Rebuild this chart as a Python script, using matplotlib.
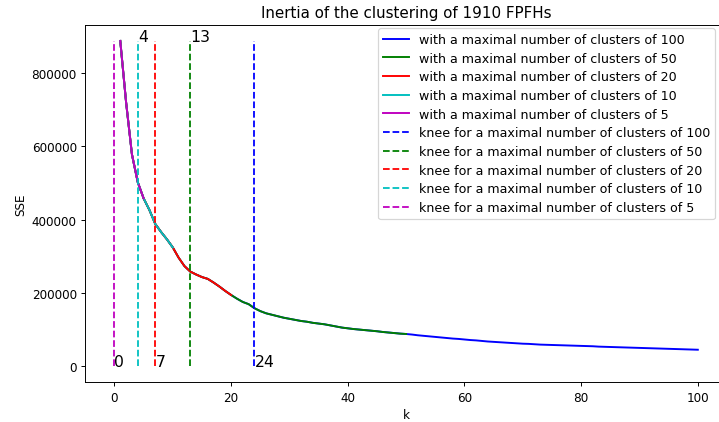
import numpy as np
import matplotlib
matplotlib.use("Agg")
import matplotlib.pyplot as plt

# SSE (inertia), k = 1..100
k = np.arange(1, 101)
sse = [888000, 720000, 578000, 502000, 458000, 426000, 388000, 366000, 346000, 324000,
       296000, 273000, 258000, 250000, 243000, 238000, 228000, 217000, 205000, 194000,
       184000, 175000, 169000, 158000, 150000, 144000, 140000, 136000, 132000, 129000,
       126000, 123000, 121000, 118000, 116000, 114000, 111000, 108000, 105000, 103000,
       101000, 99500, 98000, 96500, 95000, 93000, 91500, 90000, 88500, 87500,
       86000, 84000, 82500, 81000, 79500, 78000, 76500, 75000, 74000, 72500,
       71000, 70000, 68500, 67000, 66000, 65000, 64000, 63000, 62000, 61000,
       60500, 59500, 58500, 58000, 57500, 57000, 56500, 56000, 55500, 55000,
       54500, 54000, 53000, 52500, 52000, 51500, 51000, 50500, 50000, 49500,
       49000, 48500, 48000, 47500, 47000, 46500, 46000, 45500, 45000, 44500]

max_clusters = [100, 50, 20, 10, 5]
knees = [24, 13, 7, 4, 0]
colors = ['b', 'g', 'r', 'c', 'm']

fig = plt.figure(figsize=(719 / 86.5, 423 / 86.5), dpi=86.5)
ax = fig.add_axes([0.1186, 0.0939, 0.8925, 0.8454])

for n, c in zip(max_clusters, colors):
    ax.plot(k[:n], sse[:n], color=c, linewidth=1.6,
            label=f"with a maximal number of clusters of {n}")

top = max(sse)
for i, (n, kn, c) in enumerate(zip(max_clusters, knees, colors)):
    ax.vlines(kn, 0, top, linestyles='dashed', colors=c,
              label=f"knee for a maximal number of clusters of {n}")
    # labels alternate between bottom and top of the knee lines
    if i % 2 == 0:
        ax.text(kn, 0, str(kn), fontsize=13)
    else:
        ax.text(kn, top, str(kn), fontsize=13)

ax.set_title("Inertia of the clustering of 1910 FPFHs", fontsize=12.6)
ax.set_xlabel("k")
ax.set_ylabel("SSE")
ax.legend(loc='upper right', bbox_to_anchor=(715 / 719, 1 - 29 / 423),
          bbox_transform=fig.transFigure, borderaxespad=0, fontsize=10.5,
          labelspacing=0.45)
fig.savefig("out.png", dpi=86.5)
